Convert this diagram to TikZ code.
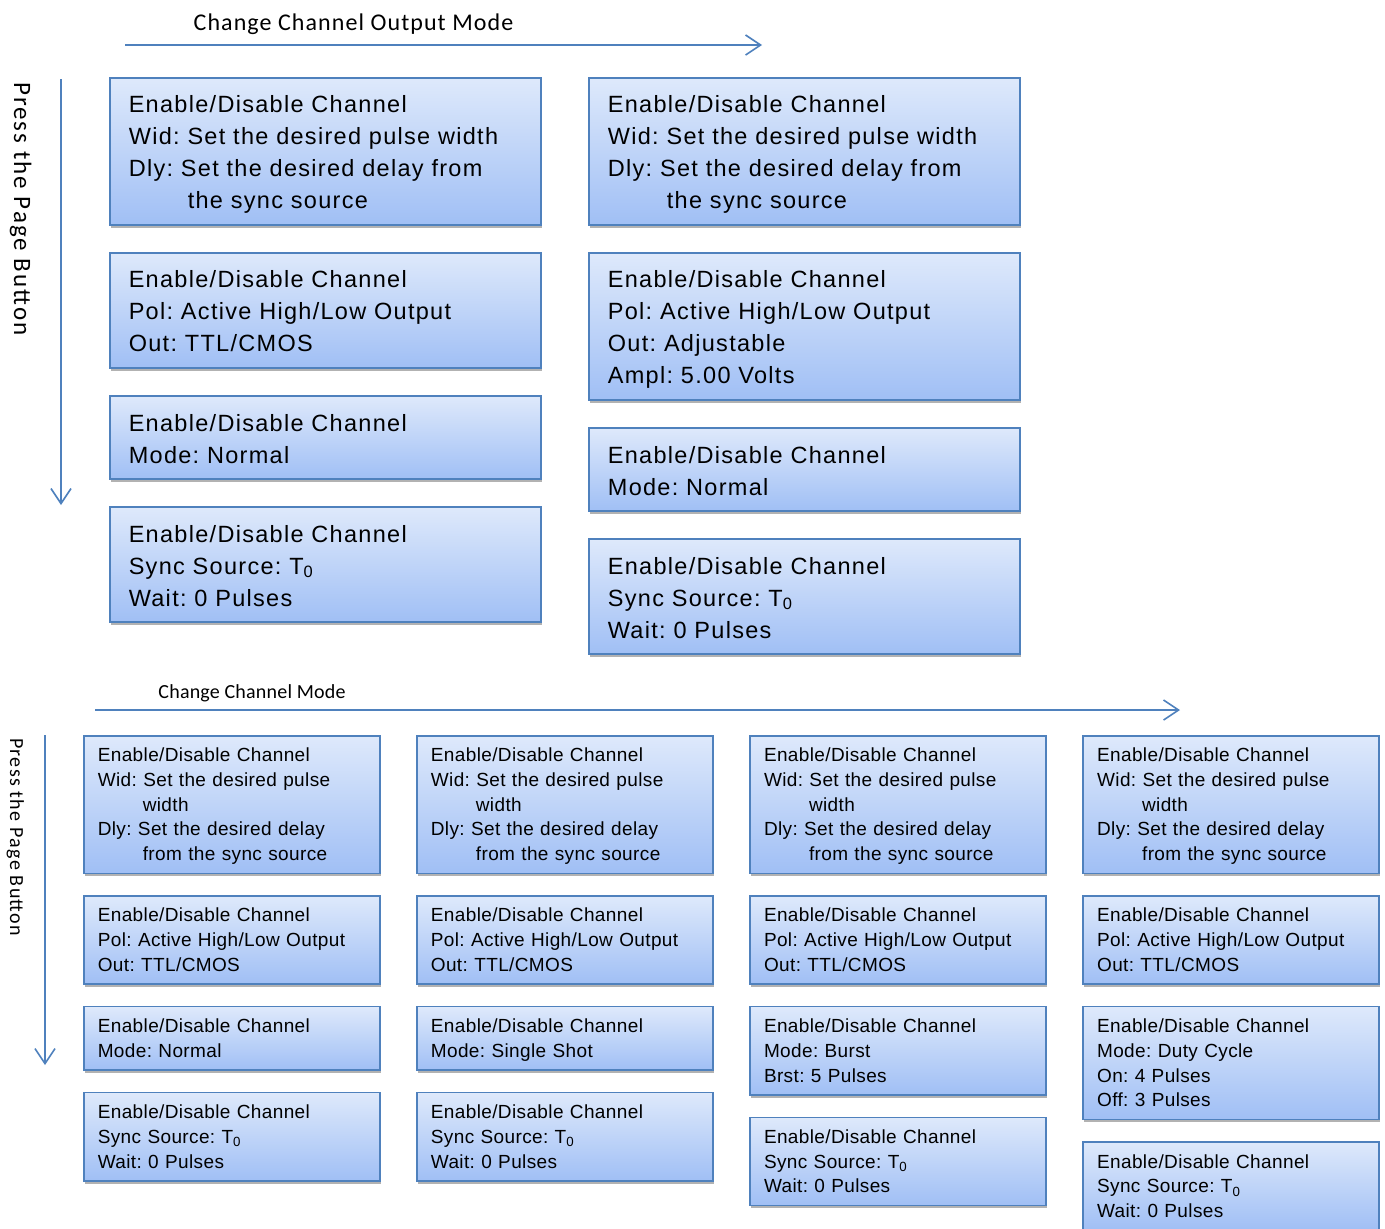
\documentclass[tikz,border=0pt]{standalone}
\usepackage{fontspec}
\setmainfont{Liberation Sans}
\newfontfamily\panelbigfont{Liberation Sans}[LetterSpace=5.5]
\newfontfamily\panelsmallfont{Liberation Sans}[LetterSpace=2]
\newfontfamily\headfont{Carlito}
\usetikzlibrary{positioning,shadows,arrows.meta}
\definecolor{panelline}{RGB}{79,129,189}
\definecolor{paneltop}{RGB}{222,233,251}
\definecolor{panelbottom}{RGB}{160,191,245}
\tikzset{
  panel/.style={rectangle, draw=panelline, line width=1.6pt, top color=paneltop, bottom color=panelbottom, align=left, text=black, drop shadow={shadow xshift=1pt, shadow yshift=-3pt, opacity=0.3, fill=black}},
  big panel/.style={panel, font=\panelbigfont\frenchspacing\fontsize{23.5}{32}\selectfont, text width=393pt, inner xsep=19pt, inner ysep=10pt,
    execute at begin node={\rule{0pt}{25pt}}, execute at end node={\rule[-6pt]{0pt}{6pt}}},
  small panel/.style={panel, font=\panelsmallfont\frenchspacing\fontsize{19}{24.7}\selectfont, text width=268pt, inner xsep=14pt, inner ysep=6pt,
    execute at begin node={\rule{0pt}{20pt}}, execute at end node={\rule[-6.7pt]{0pt}{6.7pt}}},
  page arrow/.style={draw=panelline, line width=1.6pt, -{Straight Barb[length=15pt,width=20pt]}},
  head label/.style={inner sep=0pt, text=black},
}

\begin{document}
\begin{tikzpicture}[x=1pt,y=-1pt]
\useasboundingbox (0,0) rectangle (1385,1229);
%labels and page arrows
\node [head label, anchor=base, font=\headfont\addfontfeature{LetterSpace=4.5}\fontsize{24}{28}\selectfont] (lOut) at (353.5,30) {Change Channel Output Mode};
\node [head label, anchor=base west, rotate=-90, font=\headfont\addfontfeature{LetterSpace=8}\fontsize{25}{28}\selectfont] (lPageA) at (14,82) {Press the Page Button};
\node [head label, anchor=base, font=\headfont\addfontfeature{LetterSpace=1}\fontsize{20}{24}\selectfont] (lMode) at (252,698) {Change Channel Mode};
\node [head label, anchor=base west, rotate=-90, font=\headfont\addfontfeature{LetterSpace=6.5}\fontsize{20}{24}\selectfont] (lPageB) at (10,738) {Press the Page Button};
\coordinate (oRowStart) at (125,45);
\coordinate (oRowEnd) at (762,45);
\coordinate (oColStart) at (61,79);
\coordinate (oColEnd) at (61,505);
\coordinate (mRowStart) at (95,710);
\coordinate (mRowEnd) at (1180,710);
\coordinate (mColStart) at (45,735);
\coordinate (mColEnd) at (45,1065);
\draw[page arrow] (oRowStart) -- (oRowEnd);
\draw[page arrow] (oColStart) -- (oColEnd);
\draw[page arrow] (mRowStart) -- (mRowEnd);
\draw[page arrow] (mColStart) -- (mColEnd);
%output mode pages
\node [big panel, anchor=north west] (oA) at (109,77) {Enable/Disable Channel\\Wid: Set the desired pulse width\\Dly: Set the desired delay from\\\hspace*{59pt}the sync source};
\node [big panel, below=26.5pt of oA] (oB) {Enable/Disable Channel\\Pol: Active High/Low Output\\Out: TTL/CMOS};
\node [big panel, below=26.5pt of oB] (oC) {Enable/Disable Channel\\Mode: Normal};
\node [big panel, below=26.5pt of oC] (oD) {Enable/Disable Channel\\Sync Source: T\textsubscript{0}\\Wait: 0 Pulses};
\node [big panel, right=46.5pt of oA] (oE) {Enable/Disable Channel\\Wid: Set the desired pulse width\\Dly: Set the desired delay from\\\hspace*{59pt}the sync source};
\node [big panel, below=26.5pt of oE] (oF) {Enable/Disable Channel\\Pol: Active High/Low Output\\Out: Adjustable\\Ampl: 5.00 Volts};
\node [big panel, below=26.5pt of oF] (oG) {Enable/Disable Channel\\Mode: Normal};
\node [big panel, below=26.5pt of oG] (oH) {Enable/Disable Channel\\Sync Source: T\textsubscript{0}\\Wait: 0 Pulses};
%channel mode pages
\node [small panel, anchor=north west] (mA) at (83,735) {Enable/Disable Channel\\Wid: Set the desired pulse\\\hspace*{45pt}width\\Dly: Set the desired delay\\\hspace*{45pt}from the sync source};
\node [small panel, below=21pt of mA] (mB) {Enable/Disable Channel\\Pol: Active High/Low Output\\Out: TTL/CMOS};
\node [small panel, below=21pt of mB] (mC) {Enable/Disable Channel\\Mode: Normal};
\node [small panel, below=21pt of mC] (mD) {Enable/Disable Channel\\Sync Source: T\textsubscript{0}\\Wait: 0 Pulses};
\node [small panel, right=35.5pt of mA] (mE) {Enable/Disable Channel\\Wid: Set the desired pulse\\\hspace*{45pt}width\\Dly: Set the desired delay\\\hspace*{45pt}from the sync source};
\node [small panel, below=21pt of mE] (mF) {Enable/Disable Channel\\Pol: Active High/Low Output\\Out: TTL/CMOS};
\node [small panel, below=21pt of mF] (mG) {Enable/Disable Channel\\Mode: Single Shot};
\node [small panel, below=21pt of mG] (mH) {Enable/Disable Channel\\Sync Source: T\textsubscript{0}\\Wait: 0 Pulses};
\node [small panel, right=35.5pt of mE] (mI) {Enable/Disable Channel\\Wid: Set the desired pulse\\\hspace*{45pt}width\\Dly: Set the desired delay\\\hspace*{45pt}from the sync source};
\node [small panel, below=21pt of mI] (mJ) {Enable/Disable Channel\\Pol: Active High/Low Output\\Out: TTL/CMOS};
\node [small panel, below=21pt of mJ] (mK) {Enable/Disable Channel\\Mode: Burst\\Brst: 5 Pulses};
\node [small panel, below=21pt of mK] (mL) {Enable/Disable Channel\\Sync Source: T\textsubscript{0}\\Wait: 0 Pulses};
\node [small panel, right=35.5pt of mI] (mM) {Enable/Disable Channel\\Wid: Set the desired pulse\\\hspace*{45pt}width\\Dly: Set the desired delay\\\hspace*{45pt}from the sync source};
\node [small panel, below=21pt of mM] (mN) {Enable/Disable Channel\\Pol: Active High/Low Output\\Out: TTL/CMOS};
\node [small panel, below=21pt of mN] (mO) {Enable/Disable Channel\\Mode: Duty Cycle\\On: 4 Pulses\\Off: 3 Pulses};
\node [small panel, below=21pt of mO] (mP) {Enable/Disable Channel\\Sync Source: T\textsubscript{0}\\Wait: 0 Pulses};
\end{tikzpicture}
\end{document}
